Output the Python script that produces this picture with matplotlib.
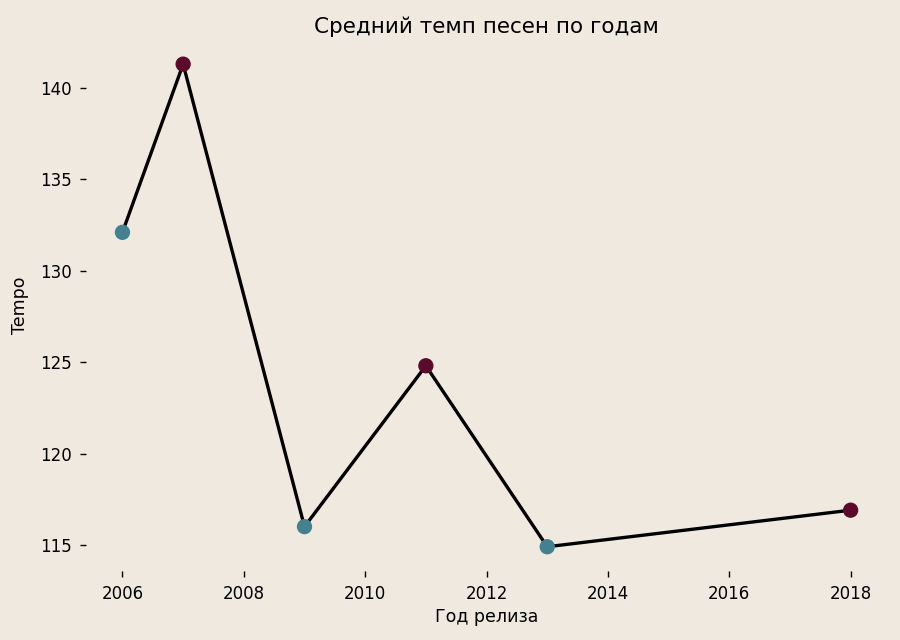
import matplotlib.pyplot as plt

# Data
years = [2006, 2007, 2009, 2011, 2013, 2018]
tempo = [132.1, 141.3, 116.0, 124.8, 114.9, 116.9]
point_colors = ['#44808f', '#5c0a2c', '#44808f', '#5c0a2c', '#44808f', '#5c0a2c']

bg = '#efe9df'

fig = plt.figure(figsize=(9, 6.4), dpi=100, facecolor=bg)
ax = fig.add_axes([0.0956, 0.108, 0.89, 0.8295])
ax.set_facecolor(bg)

ax.plot(years, tempo, color='black', linewidth=2.4, zorder=2)
ax.scatter(years, tempo, c=point_colors, s=100, zorder=3)

ax.set_xticks([2006, 2008, 2010, 2012, 2014, 2016, 2018])
ax.set_yticks([115, 120, 125, 130, 135, 140])
ax.tick_params(labelsize=12, length=4, width=1, pad=6)

for s in ax.spines.values():
    s.set_visible(False)

ax.set_title('Средний темп песен по годам', fontsize=15.5, pad=5)
ax.set_xlabel('Год релиза', fontsize=12.5, labelpad=4)
ax.set_ylabel('Tempo', fontsize=12.5, labelpad=8)

fig.savefig('out.png', dpi=100, facecolor=bg)
